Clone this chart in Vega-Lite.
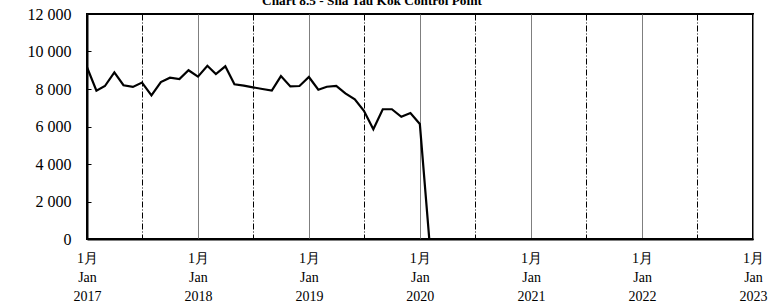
{
  "$schema": "https://vega.github.io/schema/vega-lite/v6.json",
  "autosize": {"type": "none"},
  "width": 666,
  "height": 225,
  "padding": {"left": 87, "top": 14, "right": 19, "bottom": 64},
  "background": "white",
  "title": {
    "text": "Chart 8.5 -  Sha Tau Kok Control Point",
    "font": "Liberation Serif",
    "fontSize": 13.3,
    "fontWeight": "bold",
    "color": "black",
    "anchor": "middle",
    "baseline": "alphabetic",
    "offset": 2,
    "dy": 14,
    "dx": -48
  },
  "config": {
    "view": {"stroke": "black", "strokeWidth": 2},
    "axis": {
      "labelFont": "Liberation Serif",
      "labelColor": "black",
      "domainColor": "black",
      "domainWidth": 2,
      "titleFont": "Liberation Serif"
    }
  },
  "data": {
    "values": [
      {"date": "2017-01-01", "value": 9160},
      {"date": "2017-02-01", "value": 7910},
      {"date": "2017-03-01", "value": 8160},
      {"date": "2017-04-01", "value": 8890},
      {"date": "2017-05-01", "value": 8200},
      {"date": "2017-06-01", "value": 8110},
      {"date": "2017-07-01", "value": 8340},
      {"date": "2017-08-01", "value": 7660},
      {"date": "2017-09-01", "value": 8370},
      {"date": "2017-10-01", "value": 8600},
      {"date": "2017-11-01", "value": 8530},
      {"date": "2017-12-01", "value": 9000},
      {"date": "2018-01-01", "value": 8660},
      {"date": "2018-02-01", "value": 9240},
      {"date": "2018-03-01", "value": 8800},
      {"date": "2018-04-01", "value": 9210},
      {"date": "2018-05-01", "value": 8250},
      {"date": "2018-06-01", "value": 8180},
      {"date": "2018-07-01", "value": 8090},
      {"date": "2018-08-01", "value": 8000},
      {"date": "2018-09-01", "value": 7920},
      {"date": "2018-10-01", "value": 8690},
      {"date": "2018-11-01", "value": 8140},
      {"date": "2018-12-01", "value": 8160},
      {"date": "2019-01-01", "value": 8640},
      {"date": "2019-02-01", "value": 7960},
      {"date": "2019-03-01", "value": 8120},
      {"date": "2019-04-01", "value": 8160},
      {"date": "2019-05-01", "value": 7770},
      {"date": "2019-06-01", "value": 7450},
      {"date": "2019-07-01", "value": 6840},
      {"date": "2019-08-01", "value": 5850},
      {"date": "2019-09-01", "value": 6920},
      {"date": "2019-10-01", "value": 6920},
      {"date": "2019-11-01", "value": 6520},
      {"date": "2019-12-01", "value": 6720},
      {"date": "2020-01-01", "value": 6130},
      {"date": "2020-02-01", "value": 0},
      {"date": "2020-03-01", "value": 0},
      {"date": "2020-04-01", "value": 0},
      {"date": "2020-05-01", "value": 0},
      {"date": "2020-06-01", "value": 0},
      {"date": "2020-07-01", "value": 0},
      {"date": "2020-08-01", "value": 0},
      {"date": "2020-09-01", "value": 0},
      {"date": "2020-10-01", "value": 0},
      {"date": "2020-11-01", "value": 0},
      {"date": "2020-12-01", "value": 0},
      {"date": "2021-01-01", "value": 0},
      {"date": "2021-02-01", "value": 0},
      {"date": "2021-03-01", "value": 0},
      {"date": "2021-04-01", "value": 0},
      {"date": "2021-05-01", "value": 0},
      {"date": "2021-06-01", "value": 0},
      {"date": "2021-07-01", "value": 0},
      {"date": "2021-08-01", "value": 0},
      {"date": "2021-09-01", "value": 0},
      {"date": "2021-10-01", "value": 0},
      {"date": "2021-11-01", "value": 0},
      {"date": "2021-12-01", "value": 0},
      {"date": "2022-01-01", "value": 0},
      {"date": "2022-02-01", "value": 0},
      {"date": "2022-03-01", "value": 0},
      {"date": "2022-04-01", "value": 0},
      {"date": "2022-05-01", "value": 0},
      {"date": "2022-06-01", "value": 0},
      {"date": "2022-07-01", "value": 0},
      {"date": "2022-08-01", "value": 0},
      {"date": "2022-09-01", "value": 0},
      {"date": "2022-10-01", "value": 0},
      {"date": "2022-11-01", "value": 0},
      {"date": "2022-12-01", "value": 0}
    ]
  },
  "mark": {"type": "line", "color": "black", "strokeWidth": 2.2, "clip": true},
  "encoding": {
    "x": {
      "field": "date",
      "type": "temporal",
      "title": null,
      "scale": {
        "type": "utc",
        "domain": [
          {"year": 2017, "month": 1, "date": 1, "utc": true},
          {"year": 2023, "month": 1, "date": 1, "utc": true}
        ]
      },
      "axis": {
        "values": [
          {"year": 2017, "month": 1, "date": 1, "utc": true},
          {"year": 2017, "month": 7, "date": 1, "utc": true},
          {"year": 2018, "month": 1, "date": 1, "utc": true},
          {"year": 2018, "month": 7, "date": 1, "utc": true},
          {"year": 2019, "month": 1, "date": 1, "utc": true},
          {"year": 2019, "month": 7, "date": 1, "utc": true},
          {"year": 2020, "month": 1, "date": 1, "utc": true},
          {"year": 2020, "month": 7, "date": 1, "utc": true},
          {"year": 2021, "month": 1, "date": 1, "utc": true},
          {"year": 2021, "month": 7, "date": 1, "utc": true},
          {"year": 2022, "month": 1, "date": 1, "utc": true},
          {"year": 2022, "month": 7, "date": 1, "utc": true},
          {"year": 2023, "month": 1, "date": 1, "utc": true}
        ],
        "labelExpr": "utcmonth(datum.value) == 0 ? ['1月', 'Jan', utcFormat(datum.value, '%Y')] : ''",
        "labelFontSize": 14,
        "labelLineHeight": 19,
        "labelPadding": 12,
        "labelAlign": "center",
        "labelOverlap": false,
        "labelFlush": false,
        "ticks": false,
        "grid": true,
        "gridColor": {"condition": {"test": "utcmonth(datum.value) == 0", "value": "#7f7f7f"}, "value": "black"},
        "gridDash": {"condition": {"test": "utcmonth(datum.value) == 0", "value": []}, "value": [6, 2, 1, 2]},
        "gridWidth": 1
      }
    },
    "y": {
      "field": "value",
      "type": "quantitative",
      "title": null,
      "scale": {"domain": [0, 12000], "nice": false},
      "axis": {
        "values": [0, 2000, 4000, 6000, 8000, 10000, 12000],
        "labelExpr": "replace(format(datum.value, ','), ',', ' ')",
        "labelFontSize": 16,
        "labelPadding": 20,
        "tickSize": -4,
        "tickColor": "black",
        "grid": false
      }
    }
  }
}
